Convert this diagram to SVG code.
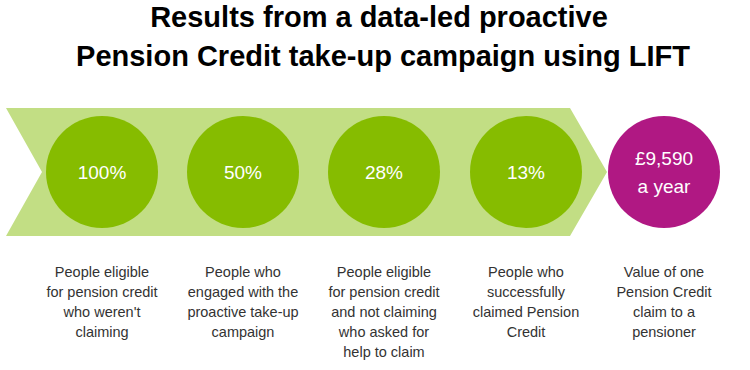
<svg xmlns="http://www.w3.org/2000/svg" width="750" height="370" viewBox="0 0 750 370">
<style>
.title{font-family:"Liberation Sans",Arial,sans-serif;font-weight:bold;font-size:29px;fill:#000;text-anchor:middle}
.num{font-family:"Liberation Sans",Arial,sans-serif;font-size:19px;fill:#fff;text-anchor:middle}
.lbl{font-family:"Liberation Sans",Arial,sans-serif;font-size:14.5px;fill:#333;text-anchor:middle}
.g{fill:#86bc00}
.m{fill:#b01883}
</style>
<rect width="750" height="370" fill="#fff"/>
<text class="title" x="379" y="27">Results from a data-led proactive</text>
<text class="title" x="383" y="66">Pension Credit take-up campaign using LIFT</text>
<g id="connectors">
<polygon points="6,108 570,108 607,172 570,236 6,236 42,172" fill="#c2de84"/>
</g>
<g id="n1"><circle class="g" cx="102" cy="172" r="56"/><text class="num" x="102" y="179">100%</text>
<text class="lbl"><tspan x="102" y="277">People eligible</tspan><tspan x="102" y="297">for pension credit</tspan><tspan x="102" y="317">who weren't</tspan><tspan x="102" y="337">claiming</tspan></text></g>
<g id="n2"><circle class="g" cx="243" cy="172" r="56"/><text class="num" x="243" y="179">50%</text>
<text class="lbl"><tspan x="243" y="277">People who</tspan><tspan x="243" y="297">engaged with the</tspan><tspan x="243" y="317">proactive take-up</tspan><tspan x="243" y="337">campaign</tspan></text></g>
<g id="n3"><circle class="g" cx="384" cy="172" r="56"/><text class="num" x="384" y="179">28%</text>
<text class="lbl"><tspan x="384" y="277">People eligible</tspan><tspan x="384" y="297">for pension credit</tspan><tspan x="384" y="317">and not claiming</tspan><tspan x="384" y="337">who asked for</tspan><tspan x="384" y="357">help to claim</tspan></text></g>
<g id="n4"><circle class="g" cx="526" cy="172" r="56"/><text class="num" x="526" y="179">13%</text>
<text class="lbl"><tspan x="526" y="277">People who</tspan><tspan x="526" y="297">successfully</tspan><tspan x="526" y="317">claimed Pension</tspan><tspan x="526" y="337">Credit</tspan></text></g>
<g id="n5"><circle class="m" cx="664" cy="172" r="56"/><text class="num" x="664" y="165">£9,590</text><text class="num" x="664" y="193">a year</text>
<text class="lbl"><tspan x="664" y="277">Value of one</tspan><tspan x="664" y="297">Pension Credit</tspan><tspan x="664" y="317">claim to a</tspan><tspan x="664" y="337">pensioner</tspan></text></g>
</svg>
